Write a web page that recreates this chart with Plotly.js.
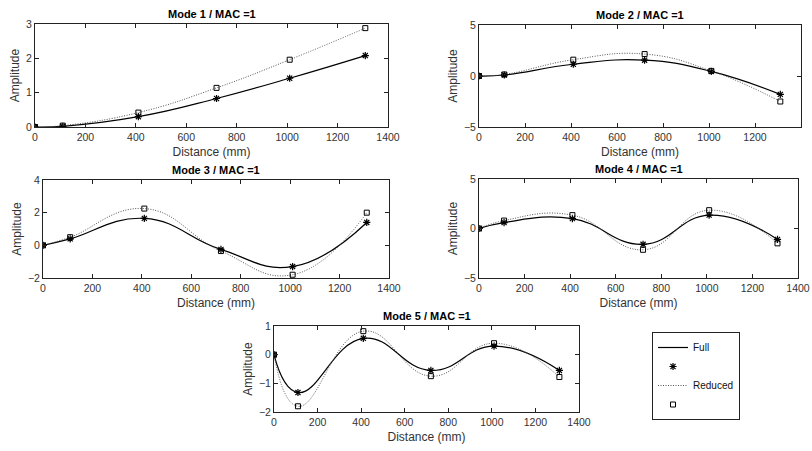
<!DOCTYPE html>
<html>
<head>
<meta charset="utf-8">
<script src="https://cdn.plot.ly/plotly-3.0.1.min.js"></script>
<style>html,body{margin:0;padding:0;background:#fff}#chart{width:812px;height:451px}</style>
</head>
<body>
<div id="chart"></div>
<script>
// ---- data ----
const distance = [0, 110, 410, 720, 1010, 1310];
const modeTitles = ["Mode 1 / MAC =1", "Mode 2 / MAC =1", "Mode 3 / MAC =1", "Mode 4 / MAC =1", "Mode 5 / MAC =1"];
const mode1Full    = [0, 0.02, 0.30, 0.83, 1.42, 2.08];
const mode1Reduced = [0, 0.04, 0.42, 1.14, 1.96, 2.88];
const mode2Full    = [0, 0.10, 1.15, 1.55, 0.45, -1.80];
const mode2Reduced = [0, 0.15, 1.60, 2.15, 0.50, -2.50];
const mode3Full    = [0, 0.40, 1.65, -0.25, -1.30, 1.40];
const mode3Reduced = [0, 0.50, 2.25, -0.35, -1.80, 2.00];
const mode4Full    = [0, 0.60, 1.00, -1.60, 1.35, -1.10];
const mode4Reduced = [0, 0.80, 1.35, -2.15, 1.85, -1.50];
const mode5Full    = [0, -1.32, 0.57, -0.55, 0.30, -0.55];
const mode5Reduced = [0, -1.80, 0.82, -0.75, 0.40, -0.78];
const yRanges = [[0, 3], [-5, 5], [-2, 4], [-5, 5], [-2, 1]];
const yTicks = [[0, 1, 2, 3], [-5, 0, 5], [-2, 0, 2, 4], [-5, 0, 5], [-2, -1, 0, 1]];
const xTicks = [0, 200, 400, 600, 800, 1000, 1200, 1400];
const legendNames = ["Full", " ", "Reduced", " "];

const fullSeries = [mode1Full, mode2Full, mode3Full, mode4Full, mode5Full];
const reducedSeries = [mode1Reduced, mode2Reduced, mode3Reduced, mode4Reduced, mode5Reduced];

// ---- layout geometry (pixels) ----
const W = 812, H = 451;
const boxes = [
  {l: 35, r: 388, t: 24, b: 127},
  {l: 479, r: 801, t: 25, b: 127},
  {l: 43, r: 389, t: 180, b: 278},
  {l: 479, r: 798, t: 179, b: 278},
  {l: 274, r: 579, t: 326, b: 412}
];

const FONT = "Liberation Sans, Arial, sans-serif";
const traces = [];
const layout = {
  width: W, height: H,
  margin: {l: 0, r: 0, t: 0, b: 0},
  paper_bgcolor: "#fff", plot_bgcolor: "#fff",
  font: {family: FONT, size: 10, color: "#222"},
  showlegend: true,
  legend: {
    x: 652 / W, y: 1 - 332 / H, xanchor: "left", yanchor: "top",
    bordercolor: "#222", borderwidth: 1, bgcolor: "#fff",
    font: {family: FONT, size: 10, color: "#111"},
    traceorder: "normal", itemwidth: 30, tracegroupgap: 0
  },
  annotations: []
};

boxes.forEach((bx, i) => {
  const k = i === 0 ? "" : String(i + 1);
  const xa = "x" + k, ya = "y" + k;
  const first = i === 0;
  traces.push({
    x: distance, y: fullSeries[i], xaxis: xa, yaxis: ya, mode: "lines",
    line: {color: "#000", width: 1.2, shape: "spline", smoothing: 1.3},
    name: legendNames[0], showlegend: first, legendrank: 1, hoverinfo: "skip"
  });
  traces.push({
    x: distance, y: fullSeries[i], xaxis: xa, yaxis: ya, mode: "markers",
    marker: {symbol: "asterisk-open", size: 6, color: "#000", line: {color: "#000", width: 1.2}},
    name: legendNames[1], showlegend: first, legendrank: 2, hoverinfo: "skip"
  });
  traces.push({
    x: distance, y: reducedSeries[i], xaxis: xa, yaxis: ya, mode: "lines",
    line: {color: "#555", width: 1, dash: "1px,1.5px", shape: "spline", smoothing: 1.3},
    name: legendNames[2], showlegend: first, legendrank: 3, hoverinfo: "skip"
  });
  traces.push({
    x: distance, y: reducedSeries[i], xaxis: xa, yaxis: ya, mode: "markers",
    marker: {symbol: "square-open", size: 5, color: "#000", line: {color: "#000", width: 1}},
    name: legendNames[3], showlegend: first, legendrank: 4, hoverinfo: "skip"
  });
  const axCommon = {
    showline: true, linecolor: "#222", linewidth: 1, mirror: "ticks",
    ticks: "inside", ticklen: 4, tickcolor: "#222", showgrid: false, zeroline: false,
    tickfont: {family: FONT, size: 10.5, color: "#333"}, fixedrange: true
  };
  layout["xaxis" + k] = Object.assign({}, axCommon, {
    domain: [bx.l / W, bx.r / W], anchor: ya, range: [0, 1400],
    tickvals: xTicks,
    title: {text: "Distance (mm)", font: {family: FONT, size: 12, color: "#333"}, standoff: 6}
  });
  layout["yaxis" + k] = Object.assign({}, axCommon, {
    domain: [1 - bx.b / H, 1 - bx.t / H], anchor: xa, range: yRanges[i],
    tickvals: yTicks[i],
    title: {text: "Amplitude", font: {family: FONT, size: 12, color: "#333"}, standoff: 3}
  });
  layout.annotations.push({
    text: "<b>" + modeTitles[i] + "</b>", xref: "paper", yref: "paper",
    x: (bx.l + bx.r) / 2 / W, y: 1 - (bx.t - 2) / H, xanchor: "center", yanchor: "bottom",
    showarrow: false, font: {family: FONT, size: 11, color: "#000"}
  });
});

Plotly.newPlot("chart", traces, layout, {staticPlot: true});
</script>
</body>
</html>
